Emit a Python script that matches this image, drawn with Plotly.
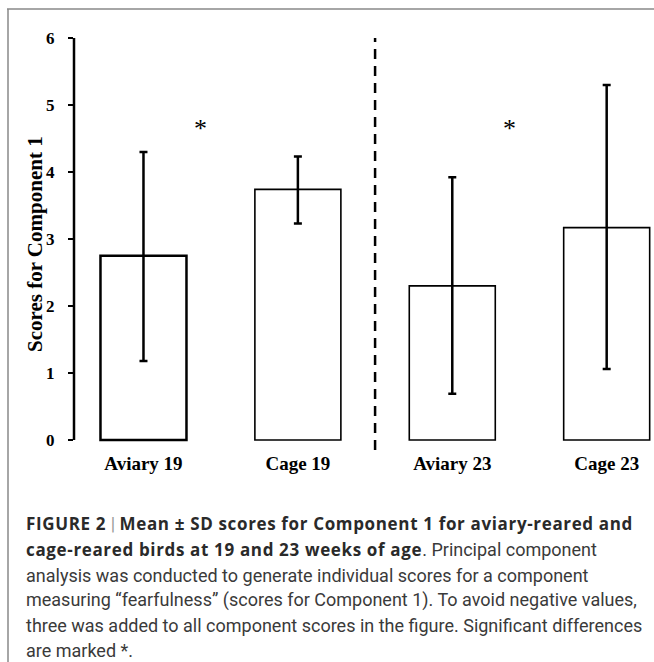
import plotly.graph_objects as go

# ---- data ----
categories = ["Aviary 19", "Cage 19", "Aviary 23", "Cage 23"]
means = [2.75, 3.74, 2.30, 3.17]
sd_plus = [1.55, 0.49, 1.62, 2.13]
sd_minus = [1.57, 0.51, 1.61, 2.11]
y_ticks = [0, 1, 2, 3, 4, 5, 6]
sig_x = [0.37, 2.37]
sig_y = [4.70, 4.70]
divider_x = 1.5
y_title = "Scores for Component 1"

BOLD = ("<span style='font-family:Open Sans;font-size:17px;font-weight:bold;"
        "letter-spacing:0.65px;color:#2a2a2a'>")
caption_lines = [
    BOLD + "FIGURE 2</span> <span style='color:#999'>|</span> " + BOLD
    + "Mean ± SD scores for Component 1 for aviary-reared and</span>",
    BOLD + "cage-reared birds at 19 and 23 weeks of age</span>. Principal component",
    "analysis was conducted to generate individual scores for a component",
    "measuring “fearfulness” (scores for Component 1). To avoid negative values,",
    "three was added to all component scores in the figure. Significant differences",
    "are marked *.",
]

W, H = 654, 662
L, R, T, B = 74, 653, 38, 450


def px_x(p):
    return (p - L) / (R - L)


def px_y(p):
    return (B - p) / (B - T)


serif = "Liberation Serif"

fig = go.Figure()
fig.add_trace(go.Bar(
    x=categories,
    y=means,
    width=0.557,
    marker=dict(color="white", line=dict(color="black", width=[2.5, 1.6, 1.6, 1.6])),
    error_y=dict(type="data", symmetric=False, array=sd_plus, arrayminus=sd_minus,
                 color="black", thickness=2.5, width=4),
    showlegend=False,
    hoverinfo="skip",
))

shapes = [
    # y axis line from 0 to 6
    dict(type="line", xref="paper", yref="y", x0=0, x1=0, y0=0, y1=6,
         line=dict(color="black", width=2.5)),
    # dashed divider
    dict(type="line", xref="x", yref="y", x0=divider_x, x1=divider_x, y0=-0.15, y1=6,
         line=dict(color="black", width=2.5, dash="10px,7px")),
    # frame lines (top and left)
    dict(type="line", xref="paper", yref="paper", x0=px_x(7), x1=px_x(660), y0=px_y(9), y1=px_y(9),
         line=dict(color="#888888", width=1.5)),
    dict(type="line", xref="paper", yref="paper", x0=px_x(8), x1=px_x(8), y0=px_y(9), y1=px_y(670),
         line=dict(color="#888888", width=1.5)),
]

annotations = []
for sx, sy in zip(sig_x, sig_y):
    annotations.append(dict(x=sx, y=sy, xref="x", yref="y", text="*", showarrow=False,
                            font=dict(family=serif, size=26, color="black"),
                            xanchor="center", yanchor="middle", yshift=-3))

annotations.append(dict(x=px_x(35), y=px_y(244), xref="paper", yref="paper", text=y_title,
                        textangle=-90, showarrow=False, xanchor="center", yanchor="middle",
                        font=dict(family=serif, size=21, color="black", weight="bold")))

line_y = [523, 549, 575, 600, 625, 650]
for txt, ly in zip(caption_lines, line_y):
    annotations.append(dict(x=px_x(24), y=px_y(ly), xref="paper", yref="paper", text=txt,
                            showarrow=False, xanchor="left", yanchor="middle",
                            font=dict(family="Roboto", size=18, color="#3a3a3a")))

fig.update_layout(
    width=W, height=H,
    margin=dict(l=L, r=W - R, t=T, b=H - B, pad=0),
    paper_bgcolor="white", plot_bgcolor="white",
    shapes=shapes, annotations=annotations,
    xaxis=dict(range=[-0.45, 3.3], showline=False, showgrid=False, zeroline=False,
               ticks="", tickfont=dict(family=serif, size=19, color="black", weight="bold")),
    yaxis=dict(range=[-0.15, 6], tickvals=y_ticks, showline=False, showgrid=False, zeroline=False,
               ticks="outside", ticklen=5, tickwidth=2, tickcolor="black",
               ticklabelstandoff=10,
               tickfont=dict(family=serif, size=17, color="black", weight="bold")),
)

fig.write_html("out.html", config={"displayModeBar": False},
               post_script="document.body.style.margin='0';document.body.style.overflow='hidden';")
